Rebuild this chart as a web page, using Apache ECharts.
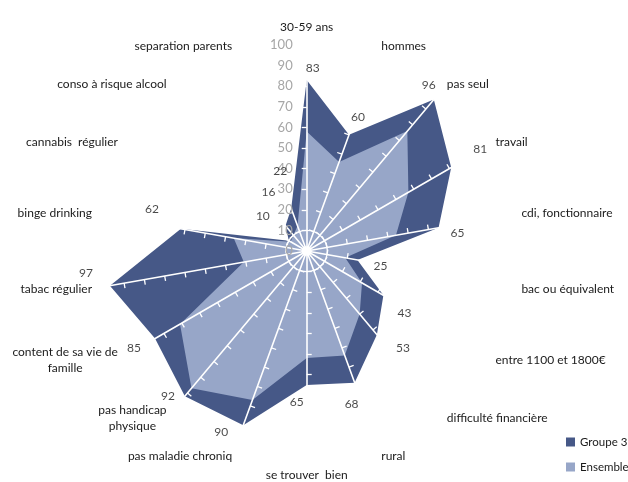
<!DOCTYPE html>
<html>
<head>
<meta charset="utf-8">
<script src="https://cdn.jsdelivr.net/npm/echarts@6/dist/echarts.min.js"></script>
<style>
  html, body { margin: 0; padding: 0; background: #ffffff; }
  #chart { width: 628px; height: 482px; }
</style>
</head>
<body>
<div id="chart"></div>
<script>
// Profile axes, listed clockwise from the top
const categories = [
  '30-59 ans', 'hommes', 'pas seul', 'travail', 'cdi, fonctionnaire',
  'bac ou équivalent', 'entre 1100 et 1800€', 'difficulté financière', 'rural',
  'se trouver  bien', 'pas maladie chroniq', 'pas handicap\nphysique',
  'content de sa vie de\nfamille', 'tabac régulier', 'binge drinking',
  'cannabis  régulier', 'conso à risque alcool', 'separation parents'
];
const groupe3  = [83, 60, 96, 81, 65, 25, 43, 53, 68, 65, 90, 92, 85, 97, 62, 10, 16, 22];
const ensemble = [58, 46, 76, 57, 44, 19, 31, 40, 54, 52, 77, 87, 71, 31, 36, 9, 10, 13];
const scaleMin = 0;
const scaleMax = 100;
const scaleStep = 10;

// Layout
const CX = 306.7, CY = 251, R = 206;
const DARK = '#465887', LIGHT = '#97A6C8';
const FONT = 'Lato';
// hand-placed nudges for the value labels of "Groupe 3" (px, relative to each vertex)
const valueLabelShift = [
  [6, -12], [9, -18], [-5, -14], [29, -18], [19, 5], [23, 6], [21, 18], [26, 13],
  [-3, 21], [-10, 17], [-22, 7], [-17, 0], [-21, 10], [-24, -13], [-29, -20],
  [-26, -25], [-17, -34], [-11, -37]
];

// ECharts radar runs counter-clockwise: keep item 0 at the top and reverse the rest
const order = [0].concat(categories.map((_, i) => i).slice(1).reverse());
const reorder = arr => order.map(i => arr[i]);

// only the first ring (10) is drawn as a white circle
const ringColors = [];
for (let v = scaleMin; v <= scaleMax; v += scaleStep) ringColors.push(v === 10 ? '#ffffff' : 'rgba(0,0,0,0)');

const chart = echarts.init(document.getElementById('chart'), null, { renderer: 'canvas' });

chart.setOption({
  backgroundColor: '#ffffff',
  animation: false,
  legend: {
    orient: 'vertical',
    left: 561,
    top: 431,
    itemWidth: 9,
    itemHeight: 9,
    itemGap: 13,
    icon: 'rect',
    textStyle: { fontFamily: FONT, fontSize: 11.5, color: '#1a1a1a' },
    data: ['Groupe 3', 'Ensemble']
  },
  radar: {
    z: 5,
    center: [CX, CY],
    radius: R,
    startAngle: 90,
    shape: 'circle',
    splitNumber: (scaleMax - scaleMin) / scaleStep,
    indicator: reorder(categories).map(name => ({ name, min: scaleMin, max: scaleMax })),
    axisName: {
      color: '#1a1a1a',
      fontFamily: FONT,
      fontSize: 12,
      formatter: name => name.indexOf('\n') >= 0
        ? name.split('\n').map(l => '{c|' + l + '}').join('\n')
        : name,
      rich: { c: { align: 'center', fontFamily: FONT, fontSize: 12, color: '#1a1a1a', lineHeight: 16 } }
    },
    nameGap: 12,
    axisLine: { lineStyle: { color: '#ffffff', width: 1.6 } },
    axisTick: { show: true, length: 5, lineStyle: { color: '#ffffff', width: 1.3 } },
    axisLabel: { show: false },
    splitLine: { show: true, lineStyle: { color: ringColors, width: 1.3 } },
    splitArea: { show: false }
  },
  polar: { center: [CX, CY], radius: R },
  angleAxis: {
    type: 'category',
    data: categories,
    startAngle: 90,
    clockwise: true,
    boundaryGap: false,
    axisLine: { show: false },
    axisTick: { show: false },
    axisLabel: { show: false },
    splitLine: { show: false }
  },
  radiusAxis: {
    type: 'value',
    min: scaleMin,
    max: scaleMax,
    interval: scaleStep,
    z: 10,
    axisLine: { show: false },
    axisTick: { show: false },
    splitLine: { show: false },
    axisLabel: { color: '#A6A6A6', fontFamily: FONT, fontSize: 13, margin: 14 }
  },
  series: [
    {
      name: 'Groupe 3',
      type: 'radar',
      z: 2,
      symbol: 'none',
      itemStyle: { color: DARK },
      lineStyle: { width: 0 },
      areaStyle: { color: DARK, opacity: 1 },
      data: [{ name: 'Groupe 3', value: reorder(groupe3) }]
    },
    {
      name: 'Ensemble',
      type: 'radar',
      z: 3,
      symbol: 'none',
      itemStyle: { color: LIGHT },
      lineStyle: { width: 0 },
      areaStyle: { color: LIGHT, opacity: 1 },
      data: [{ name: 'Ensemble', value: reorder(ensemble) }]
    },
    {
      name: 'valeurs',
      type: 'scatter',
      coordinateSystem: 'polar',
      z: 10,
      symbolSize: 0,
      silent: true,
      label: {
        show: true,
        position: 'inside',
        color: '#1a1a1a',
        fontFamily: FONT,
        fontSize: 12,
        formatter: p => p.value[0]
      },
      data: groupe3.map((v, i) => ({ value: [v, i], label: { offset: valueLabelShift[i] } }))
    }
  ]
});
</script>
</body>
</html>
